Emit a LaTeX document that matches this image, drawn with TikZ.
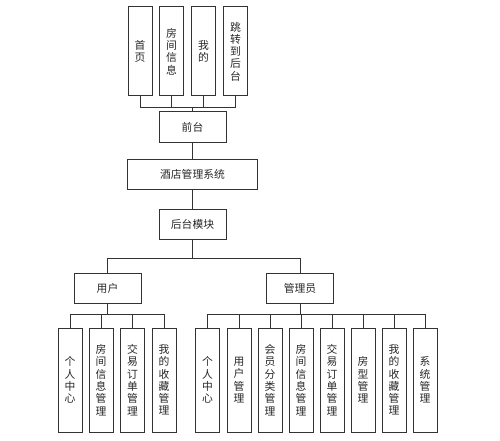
\documentclass[tikz,border=0pt]{standalone}
\usepackage{fontspec}
\setmainfont{Noto Sans CJK SC}
\begin{document}
\begin{tikzpicture}[x=1pt,y=-1pt,
  box/.style={draw=black!80,line width=1pt,text=black!85,inner sep=0pt,
    font=\fontsize{10.8}{12.3}\selectfont},
  hbox/.style={box,minimum width=67pt,minimum height=30pt},
  tbox/.style={box,align=center,text width=24pt,minimum height=89pt},
  bbox/.style={box,align=center,text width=24pt,minimum height=104pt},
  wire/.style={draw=black!80,line width=0.8pt}]
\useasboundingbox (0,0) rectangle (500,441);

% front end
\draw (140,51.5) node[tbox] (shouye) {首\\页};
\draw (171.5,51.5) node[tbox] (fangjian) {房\\间\\信\\息};
\draw (203.5,51.5) node[tbox] (wode) {我\\的};
\draw (235.5,51.5) node[tbox] (tiaozhuan) {跳\\转\\到\\后\\台};
\coordinate (qbus) at (192.5,107);

\draw (192.5,127) node[hbox] (qiantai) {前台};
\draw (192.5,174) node[hbox,minimum width=130pt] (xitong) {酒店管理系统};
\draw (192.5,224) node[hbox] (houtai) {后台模块};
\coordinate (hbus) at (192.5,258);

\draw (107.5,288) node[hbox] (yonghu) {用户};
\draw (300,288) node[hbox] (guanli) {管理员};
\coordinate (ybus) at (107.5,314);
\coordinate (gbus) at (300,314);

% user side
\draw (70,380) node[bbox] (u1) {个\\人\\中\\心};
\draw (101,380) node[bbox] (u2) {房\\间\\信\\息\\管\\理};
\draw (132.5,380) node[bbox] (u3) {交\\易\\订\\单\\管\\理};
\draw (164,380) node[bbox] (u4) {我\\的\\收\\藏\\管\\理};

% admin side
\draw (207.5,380) node[bbox] (a1) {个\\人\\中\\心};
\draw (239,380) node[bbox] (a2) {用\\户\\管\\理};
\draw (270,380) node[bbox] (a3) {会\\员\\分\\类\\管\\理};
\draw (301,380) node[bbox] (a4) {房\\间\\信\\息\\管\\理};
\draw (332,380) node[bbox] (a5) {交\\易\\订\\单\\管\\理};
\draw (363,380) node[bbox] (a6) {房\\型\\管\\理};
\draw (394,380) node[bbox] (a7) {我\\的\\收\\藏\\管\\理};
\draw (425,380) node[bbox] (a8) {系\\统\\管\\理};

\foreach \n in {shouye,fangjian,wode,tiaozhuan}
  \draw[wire] (\n.south) |- (qbus);
\draw[wire] (qbus) -- (qiantai.north);
\draw[wire] (qiantai) -- (xitong) -- (houtai);
\draw[wire] (houtai.south) -- (hbus);
\draw[wire] (yonghu.north) |- (hbus);
\draw[wire] (guanli.north) |- (hbus);
\draw[wire] (yonghu.south) -- (ybus);
\draw[wire] (guanli.south) -- (gbus);
\foreach \n in {u1,u2,u3,u4}
  \draw[wire] (\n.north) |- (ybus);
\foreach \n in {a1,a2,a3,a4,a5,a6,a7,a8}
  \draw[wire] (\n.north) |- (gbus);
\end{tikzpicture}
\end{document}
